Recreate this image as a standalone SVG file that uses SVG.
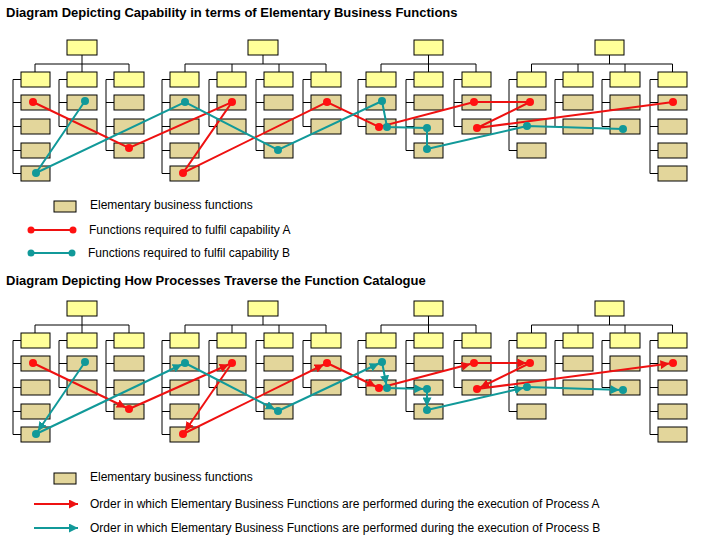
<svg xmlns="http://www.w3.org/2000/svg" width="720" height="540" viewBox="0 0 720 540">
<style>
.t{font-family:"Liberation Sans",Arial,sans-serif;font-size:13px;font-weight:bold;fill:#000}
.l{font-family:"Liberation Sans",Arial,sans-serif;font-size:12px;fill:#000}
.h{fill:#ffff99;stroke:#000;stroke-width:1}
.f{fill:#e3d69b;stroke:#000;stroke-width:1}
.w{fill:none;stroke:#000;stroke-width:1}
.ra{fill:none;stroke:#ee1111;stroke-width:2}
.tb{fill:none;stroke:#119999;stroke-width:2}
.rd{fill:#ff1111}
.td{fill:#119999}
</style>
<defs>
<marker id="mr" viewBox="0 0 10 10" refX="14" refY="5" markerUnits="userSpaceOnUse" markerWidth="9" markerHeight="9" orient="auto"><path d="M0,0L10,5L0,10z" fill="#ee1111"/></marker>
<marker id="mt" viewBox="0 0 10 10" refX="14" refY="5" markerUnits="userSpaceOnUse" markerWidth="9" markerHeight="9" orient="auto"><path d="M0,0L10,5L0,10z" fill="#119999"/></marker>
<marker id="mr0" viewBox="0 0 10 10" refX="10" refY="5" markerUnits="userSpaceOnUse" markerWidth="9" markerHeight="9" orient="auto"><path d="M0,0L10,5L0,10z" fill="#ee1111"/></marker>
<marker id="mt0" viewBox="0 0 10 10" refX="10" refY="5" markerUnits="userSpaceOnUse" markerWidth="9" markerHeight="9" orient="auto"><path d="M0,0L10,5L0,10z" fill="#119999"/></marker>
</defs>
<text class="t" x="6" y="17">Diagram Depicting Capability in terms of Elementary Business Functions</text>
<text class="t" x="6" y="285">Diagram Depicting How Processes Traverse the Function Catalogue</text>

<g id="chartA">
<g id="a-tree1">
<path class="w" d="M82,55V64M35,64H129M35,64V72M82,64V72M129,64V72M13,79.5V173.5M13,79.5H21M13,102.5H21M13,126.5H21M13,150.5H21M13,173.5H21M59,79.5V126.5M59,79.5H67M59,102.5H67M59,126.5H67M106,79.5V150.5M106,79.5H114M106,102.5H114M106,126.5H114M106,150.5H114"/>
<rect class="h" x="67" y="40" width="30" height="15"/>
<rect class="h" x="21" y="72" width="29" height="15"/><rect class="f" x="21" y="95" width="29" height="15"/><rect class="f" x="21" y="119" width="29" height="15"/><rect class="f" x="21" y="143" width="29" height="15"/><rect class="f" x="21" y="166" width="29" height="15"/>
<rect class="h" x="67" y="72" width="30" height="15"/><rect class="f" x="67" y="95" width="30" height="15"/><rect class="f" x="67" y="119" width="30" height="15"/>
<rect class="h" x="114" y="72" width="30" height="15"/><rect class="f" x="114" y="95" width="30" height="15"/><rect class="f" x="114" y="119" width="30" height="15"/><rect class="f" x="114" y="143" width="30" height="15"/>
</g>
<g id="a-tree2">
<path class="w" d="M263,55V64M185,64H326M185,64V72M232,64V72M279,64V72M326,64V72M162,79.5V173.5M162,79.5H170M162,102.5H170M162,126.5H170M162,150.5H170M162,173.5H170M209,79.5V126.5M209,79.5H217M209,102.5H217M209,126.5H217M256,79.5V150.5M256,79.5H264M256,102.5H264M256,126.5H264M256,150.5H264M303,79.5V126.5M303,79.5H311M303,102.5H311M303,126.5H311"/>
<rect class="h" x="248" y="40" width="30" height="15"/>
<rect class="h" x="170" y="72" width="29" height="15"/><rect class="f" x="170" y="95" width="29" height="15"/><rect class="f" x="170" y="119" width="29" height="15"/><rect class="f" x="170" y="143" width="29" height="15"/><rect class="f" x="170" y="166" width="29" height="15"/>
<rect class="h" x="217" y="72" width="29" height="15"/><rect class="f" x="217" y="95" width="29" height="15"/><rect class="f" x="217" y="119" width="29" height="15"/>
<rect class="h" x="264" y="72" width="29" height="15"/><rect class="f" x="264" y="95" width="29" height="15"/><rect class="f" x="264" y="119" width="29" height="15"/><rect class="f" x="264" y="143" width="29" height="15"/>
<rect class="h" x="311" y="72" width="30" height="15"/><rect class="f" x="311" y="95" width="30" height="15"/><rect class="f" x="311" y="119" width="30" height="15"/>
</g>
<g id="a-tree3">
<path class="w" d="M428.5,55V64M381,64H476M381,64V72M428.5,64V72M476,64V72M358,79.5V126.5M358,79.5H366M358,102.5H366M358,126.5H366M406,79.5V150.5M406,79.5H414M406,102.5H414M406,126.5H414M406,150.5H414M454,79.5V126.5M454,79.5H462M454,102.5H462M454,126.5H462"/>
<rect class="h" x="414" y="40" width="29" height="15"/>
<rect class="h" x="366" y="72" width="30" height="15"/><rect class="f" x="366" y="95" width="30" height="15"/><rect class="f" x="366" y="119" width="30" height="15"/>
<rect class="h" x="414" y="72" width="29" height="15"/><rect class="f" x="414" y="95" width="29" height="15"/><rect class="f" x="414" y="119" width="29" height="15"/><rect class="f" x="414" y="143" width="29" height="15"/>
<rect class="h" x="462" y="72" width="29" height="15"/><rect class="f" x="462" y="95" width="29" height="15"/><rect class="f" x="462" y="119" width="29" height="15"/>
</g>
<g id="a-tree4">
<path class="w" d="M609.5,55V64M531.5,64H672.5M531.5,64V72M578,64V72M625,64V72M672.5,64V72M509,79.5V150.5M509,79.5H517M509,102.5H517M509,126.5H517M509,150.5H517M555,79.5V126.5M555,79.5H563M555,102.5H563M555,126.5H563M602,79.5V126.5M602,79.5H610M602,102.5H610M602,126.5H610M650,79.5V173.5M650,79.5H658M650,102.5H658M650,126.5H658M650,150.5H658M650,173.5H658"/>
<rect class="h" x="595" y="40" width="29" height="15"/>
<rect class="h" x="517" y="72" width="29" height="15"/><rect class="f" x="517" y="95" width="29" height="15"/><rect class="f" x="517" y="119" width="29" height="15"/><rect class="f" x="517" y="143" width="29" height="15"/>
<rect class="h" x="563" y="72" width="30" height="15"/><rect class="f" x="563" y="95" width="30" height="15"/><rect class="f" x="563" y="119" width="30" height="15"/>
<rect class="h" x="610" y="72" width="30" height="15"/><rect class="f" x="610" y="95" width="30" height="15"/><rect class="f" x="610" y="119" width="30" height="15"/>
<rect class="h" x="658" y="72" width="29" height="15"/><rect class="f" x="658" y="95" width="29" height="15"/><rect class="f" x="658" y="119" width="29" height="15"/><rect class="f" x="658" y="143" width="29" height="15"/><rect class="f" x="658" y="166" width="29" height="15"/>
</g>
<g id="a-connectors">
<polyline class="ra" points="33,102 129,148 232,102 183,173 327,102 379,127 474,102 530,102 477,128 673,102"/>
<polyline class="tb" points="85,101 36,173 185,102 278,150 382,101 387,127 427,128 427,149 527,126 623,129"/>
<g class="rd"><circle cx="33" cy="102" r="4"/><circle cx="129" cy="148" r="4"/><circle cx="232" cy="102" r="4"/><circle cx="183" cy="173" r="4"/><circle cx="327" cy="102" r="4"/><circle cx="379" cy="127" r="4"/><circle cx="474" cy="102" r="4"/><circle cx="530" cy="102" r="4"/><circle cx="477" cy="128" r="4"/><circle cx="673" cy="102" r="4"/></g>
<g class="td"><circle cx="85" cy="101" r="4"/><circle cx="36" cy="173" r="4"/><circle cx="185" cy="102" r="4"/><circle cx="278" cy="150" r="4"/><circle cx="382" cy="101" r="4"/><circle cx="387" cy="127" r="4"/><circle cx="427" cy="128" r="4"/><circle cx="427" cy="149" r="4"/><circle cx="527" cy="126" r="4"/><circle cx="623" cy="129" r="4"/></g>
</g>
</g>

<g id="legendA">
<rect class="f" x="54" y="201" width="22" height="11"/>
<text class="l" x="90" y="209">Elementary business functions</text>
<line class="ra" x1="31" y1="230" x2="73" y2="230"/><circle class="rd" cx="31" cy="230" r="3.5"/><circle class="rd" cx="73" cy="230" r="3.5"/>
<text class="l" x="89" y="234">Functions required to fulfil capability A</text>
<line class="tb" x1="31" y1="253" x2="72" y2="253"/><circle class="td" cx="31" cy="253" r="3.5"/><circle class="td" cx="72" cy="253" r="3.5"/>
<text class="l" x="88" y="257">Functions required to fulfil capability B</text>
</g>

<g id="chartB" transform="translate(0,261)">
<g id="b-tree1">
<path class="w" d="M82,55V64M35,64H129M35,64V72M82,64V72M129,64V72M13,79.5V173.5M13,79.5H21M13,102.5H21M13,126.5H21M13,150.5H21M13,173.5H21M59,79.5V126.5M59,79.5H67M59,102.5H67M59,126.5H67M106,79.5V150.5M106,79.5H114M106,102.5H114M106,126.5H114M106,150.5H114"/>
<rect class="h" x="67" y="40" width="30" height="15"/>
<rect class="h" x="21" y="72" width="29" height="15"/><rect class="f" x="21" y="95" width="29" height="15"/><rect class="f" x="21" y="119" width="29" height="15"/><rect class="f" x="21" y="143" width="29" height="15"/><rect class="f" x="21" y="166" width="29" height="15"/>
<rect class="h" x="67" y="72" width="30" height="15"/><rect class="f" x="67" y="95" width="30" height="15"/><rect class="f" x="67" y="119" width="30" height="15"/>
<rect class="h" x="114" y="72" width="30" height="15"/><rect class="f" x="114" y="95" width="30" height="15"/><rect class="f" x="114" y="119" width="30" height="15"/><rect class="f" x="114" y="143" width="30" height="15"/>
</g>
<g id="b-tree2">
<path class="w" d="M263,55V64M185,64H326M185,64V72M232,64V72M279,64V72M326,64V72M162,79.5V173.5M162,79.5H170M162,102.5H170M162,126.5H170M162,150.5H170M162,173.5H170M209,79.5V126.5M209,79.5H217M209,102.5H217M209,126.5H217M256,79.5V150.5M256,79.5H264M256,102.5H264M256,126.5H264M256,150.5H264M303,79.5V126.5M303,79.5H311M303,102.5H311M303,126.5H311"/>
<rect class="h" x="248" y="40" width="30" height="15"/>
<rect class="h" x="170" y="72" width="29" height="15"/><rect class="f" x="170" y="95" width="29" height="15"/><rect class="f" x="170" y="119" width="29" height="15"/><rect class="f" x="170" y="143" width="29" height="15"/><rect class="f" x="170" y="166" width="29" height="15"/>
<rect class="h" x="217" y="72" width="29" height="15"/><rect class="f" x="217" y="95" width="29" height="15"/><rect class="f" x="217" y="119" width="29" height="15"/>
<rect class="h" x="264" y="72" width="29" height="15"/><rect class="f" x="264" y="95" width="29" height="15"/><rect class="f" x="264" y="119" width="29" height="15"/><rect class="f" x="264" y="143" width="29" height="15"/>
<rect class="h" x="311" y="72" width="30" height="15"/><rect class="f" x="311" y="95" width="30" height="15"/><rect class="f" x="311" y="119" width="30" height="15"/>
</g>
<g id="b-tree3">
<path class="w" d="M428.5,55V64M381,64H476M381,64V72M428.5,64V72M476,64V72M358,79.5V126.5M358,79.5H366M358,102.5H366M358,126.5H366M406,79.5V150.5M406,79.5H414M406,102.5H414M406,126.5H414M406,150.5H414M454,79.5V126.5M454,79.5H462M454,102.5H462M454,126.5H462"/>
<rect class="h" x="414" y="40" width="29" height="15"/>
<rect class="h" x="366" y="72" width="30" height="15"/><rect class="f" x="366" y="95" width="30" height="15"/><rect class="f" x="366" y="119" width="30" height="15"/>
<rect class="h" x="414" y="72" width="29" height="15"/><rect class="f" x="414" y="95" width="29" height="15"/><rect class="f" x="414" y="119" width="29" height="15"/><rect class="f" x="414" y="143" width="29" height="15"/>
<rect class="h" x="462" y="72" width="29" height="15"/><rect class="f" x="462" y="95" width="29" height="15"/><rect class="f" x="462" y="119" width="29" height="15"/>
</g>
<g id="b-tree4">
<path class="w" d="M609.5,55V64M531.5,64H672.5M531.5,64V72M578,64V72M625,64V72M672.5,64V72M509,79.5V150.5M509,79.5H517M509,102.5H517M509,126.5H517M509,150.5H517M555,79.5V126.5M555,79.5H563M555,102.5H563M555,126.5H563M602,79.5V126.5M602,79.5H610M602,102.5H610M602,126.5H610M650,79.5V173.5M650,79.5H658M650,102.5H658M650,126.5H658M650,150.5H658M650,173.5H658"/>
<rect class="h" x="595" y="40" width="29" height="15"/>
<rect class="h" x="517" y="72" width="29" height="15"/><rect class="f" x="517" y="95" width="29" height="15"/><rect class="f" x="517" y="119" width="29" height="15"/><rect class="f" x="517" y="143" width="29" height="15"/>
<rect class="h" x="563" y="72" width="30" height="15"/><rect class="f" x="563" y="95" width="30" height="15"/><rect class="f" x="563" y="119" width="30" height="15"/>
<rect class="h" x="610" y="72" width="30" height="15"/><rect class="f" x="610" y="95" width="30" height="15"/><rect class="f" x="610" y="119" width="30" height="15"/>
<rect class="h" x="658" y="72" width="29" height="15"/><rect class="f" x="658" y="95" width="29" height="15"/><rect class="f" x="658" y="119" width="29" height="15"/><rect class="f" x="658" y="143" width="29" height="15"/><rect class="f" x="658" y="166" width="29" height="15"/>
</g>
<g id="b-connectors">
<g class="ra" marker-end="url(#mr)">
<line x1="33" y1="102" x2="129" y2="148"/><line x1="129" y1="148" x2="232" y2="102"/><line x1="232" y1="102" x2="183" y2="173"/><line x1="183" y1="173" x2="327" y2="102"/><line x1="327" y1="102" x2="379" y2="127"/><line x1="379" y1="127" x2="474" y2="102"/><line x1="474" y1="102" x2="530" y2="102"/><line x1="530" y1="102" x2="477" y2="128"/><line x1="477" y1="128" x2="673" y2="102"/>
</g>
<g class="tb" marker-end="url(#mt)">
<line x1="85" y1="101" x2="36" y2="173"/><line x1="36" y1="173" x2="185" y2="102"/><line x1="185" y1="102" x2="278" y2="150"/><line x1="278" y1="150" x2="382" y2="101"/><line x1="382" y1="101" x2="387" y2="127"/><line x1="387" y1="127" x2="427" y2="128"/><line x1="427" y1="128" x2="427" y2="149"/><line x1="427" y1="149" x2="527" y2="126"/><line x1="527" y1="126" x2="623" y2="129"/>
</g>
<g class="rd"><circle cx="33" cy="102" r="4"/><circle cx="129" cy="148" r="4"/><circle cx="232" cy="102" r="4"/><circle cx="183" cy="173" r="4"/><circle cx="327" cy="102" r="4"/><circle cx="379" cy="127" r="4"/><circle cx="474" cy="102" r="4"/><circle cx="530" cy="102" r="4"/><circle cx="477" cy="128" r="4"/><circle cx="673" cy="102" r="4"/></g>
<g class="td"><circle cx="85" cy="101" r="4"/><circle cx="36" cy="173" r="4"/><circle cx="185" cy="102" r="4"/><circle cx="278" cy="150" r="4"/><circle cx="382" cy="101" r="4"/><circle cx="387" cy="127" r="4"/><circle cx="427" cy="128" r="4"/><circle cx="427" cy="149" r="4"/><circle cx="527" cy="126" r="4"/><circle cx="623" cy="129" r="4"/></g>
</g>
</g>

<g id="legendB">
<rect class="f" x="54" y="473" width="22" height="11"/>
<text class="l" x="90" y="481">Elementary business functions</text>
<line class="ra" x1="34" y1="504" x2="78" y2="504" marker-end="url(#mr0)"/>
<text class="l" x="90" y="508">Order in which Elementary Business Functions are performed during the execution of Process A</text>
<line class="tb" x1="34" y1="528" x2="78" y2="528" marker-end="url(#mt0)"/>
<text class="l" x="90" y="532">Order in which Elementary Business Functions are performed during the execution of Process B</text>
</g>
</svg>
